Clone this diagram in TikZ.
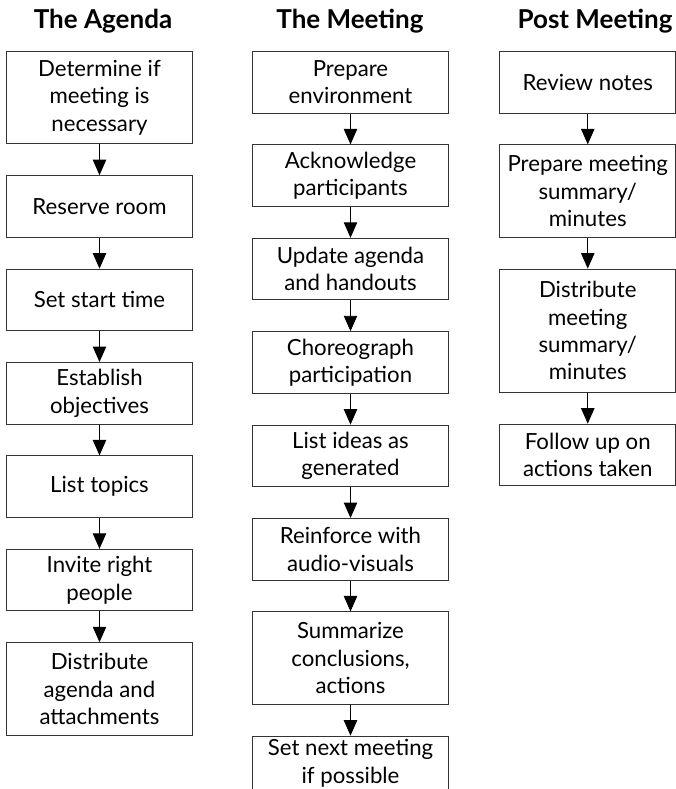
\documentclass[tikz,border=0pt]{standalone}
\usepackage{fontspec}
\setmainfont{Lato}
\usetikzlibrary{positioning, arrows.meta}
\tikzset{
box/.style={draw=black!80, rectangle, line width=0.7pt, align=center, inner sep=0pt, font=\fontsize{15.8}{19.4}\selectfont},
two/.style={box, minimum height=1.54cm},
three/.style={box, minimum height=2.31cm},
four/.style={box, minimum height=3.08cm},
agenda/.style={minimum width=4.625cm},
meeting/.style={minimum width=4.875cm},
post/.style={minimum width=4.39cm},
head/.style={font=\fontsize{18.5}{22}\selectfont\bfseries},
flow/.style={-{Triangle[length=11pt, width=9.5pt]}, line width=0.7pt},
}

\begin{document}
\begin{tikzpicture}[x=0.025cm, y=-0.025cm, node distance=0.77cm]
    \useasboundingbox (0,0) rectangle (676,789);

    %titles
    \node[head] (ta) at (103,21) {The Agenda};
    \node[head] (tm) at (350,21) {The Meeting};
    \node[head] (tp) at (595,21) {Post Meeting};

    %the agenda
    \node[three, agenda, anchor=north] (a1) at (99.5,51) {Determine if\\meeting is\\necessary};
    \node[two, agenda, below=of a1] (a2) {Reserve room};
    \node[two, agenda, below=of a2] (a3) {Set start time};
    \node[two, agenda, below=of a3] (a4) {Establish\\objectives};
    \node[two, agenda, below=of a4] (a5) {List topics};
    \node[two, agenda, below=of a5] (a6) {Invite right\\people};
    \node[three, agenda, below=of a6] (a7) {Distribute\\agenda and\\attachments};

    %the meeting
    \node[two, meeting, anchor=north] (m1) at (350.5,51) {Prepare\\environment};
    \node[two, meeting, below=of m1] (m2) {Acknowledge\\participants};
    \node[two, meeting, below=of m2] (m3) {Update agenda\\and handouts};
    \node[two, meeting, below=of m3] (m4) {Choreograph\\participation};
    \node[two, meeting, below=of m4] (m5) {List ideas as\\generated};
    \node[two, meeting, below=of m5] (m6) {Reinforce with\\audio-visuals};
    \node[three, meeting, below=of m6] (m7) {Summarize\\conclusions,\\actions};
    \node[two, meeting, below=of m7, text depth=8pt] (m8) {Set next meeting\\if possible};

    %post meeting
    \node[two, post, anchor=north] (p1) at (587.75,51) {Review notes};
    \node[three, post, below=of p1] (p2) {Prepare meeting\\summary/\\minutes};
    \node[four, post, below=of p2] (p3) {Distribute\\meeting\\summary/\\minutes};
    \node[two, post, below=of p3] (p4) {Follow up on\\actions taken};

    \foreach \i/\j in {1/2,2/3,3/4,4/5,5/6,6/7} {
        \draw[flow] (a\i) -- (a\j);
    }
    \foreach \i/\j in {1/2,2/3,3/4,4/5,5/6,6/7,7/8} {
        \draw[flow] (m\i) -- (m\j);
    }
    \foreach \i/\j in {1/2,2/3,3/4} {
        \draw[flow] (p\i) -- (p\j);
    }
\end{tikzpicture}
\end{document}
